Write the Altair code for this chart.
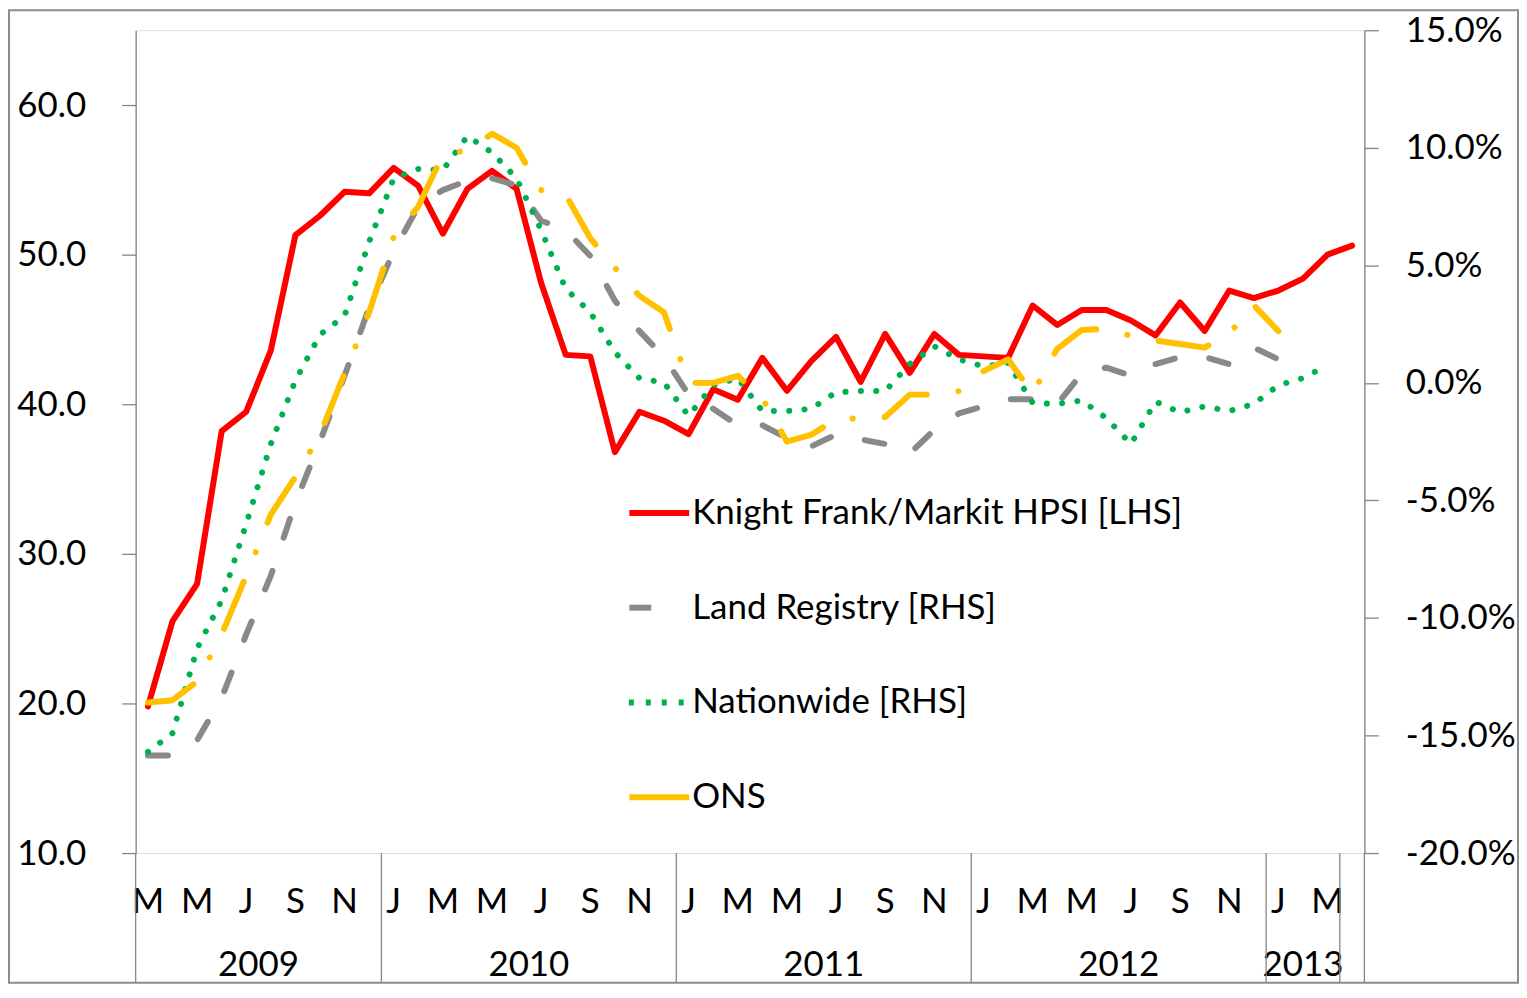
import altair as alt
import pandas as pd

# ---------------- data (Mar 2009 .. Apr 2013, monthly) ----------------
series_names = ["Knight Frank/Markit HPSI [LHS]", "Land Registry [RHS]",
                "Nationwide [RHS]", "ONS"]

knight_frank = [19.8, 25.5, 28.0, 38.2, 39.5, 43.6, 51.3, 52.6, 54.2, 54.1,
                55.8, 54.6, 51.4, 54.4, 55.6, 54.4, 48.1, 43.3, 43.2, 36.8,
                39.5, 38.9, 38.0, 41.0, 40.3, 43.1, 40.9, 42.9, 44.5, 41.5,
                44.7, 42.1, 44.7, 43.3, 43.2, 43.1, 46.6, 45.3, 46.3, 46.3,
                45.6, 44.6, 46.8, 44.9, 47.6, 47.1, 47.6, 48.4, 50.0, 50.6]

land_registry = [-15.85, -15.85, -15.2, -13.4, -10.7, -8.2, -5.1, -2.5, 0.3, 3.2,
                 5.6, 7.5, 8.2, 8.6, 8.7, 8.4, 6.9, 6.5, 5.4, 3.5,
                 2.2, 1.1, -0.5, -1.1, -1.8, -1.8, -2.35, -2.7, -2.2, -2.4,
                 -2.6, -3.0, -2.0, -1.3, -1.0, -0.7, -0.7, -0.9, 0.4, 0.65,
                 0.3, 0.8, 1.1, 1.1, 0.8, 1.5, 1.0, 1.0]

nationwide = [-15.7, -14.9, -11.3, -9.25, -6.0, -2.6, 0.1, 2.05, 2.85, 6.0,
              8.7, 9.1, 9.05, 10.5, 9.8, 8.7, 6.5, 4.0, 3.0, 1.3,
              0.2, 0.0, -1.4, -0.1, 0.2, -1.2, -1.2, -1.1, -0.4, -0.35,
              -0.35, 0.8, 1.55, 1.0, 0.7, 0.85, -0.85, -0.9, -0.75, -1.5,
              -2.6, -0.8, -1.25, -1.0, -1.2, -0.9, -0.1, 0.2, 0.75]

ons = [-13.6, -13.5, -12.7, -10.7, -8.2, -5.6, -4.0, -2.2, 0.4, 3.0,
       6.2, 7.5, 9.7, 9.9, 10.6, 10.0, 8.2, 8.0, 6.15, 4.9,
       3.7, 3.0, 0.0, 0.0, 0.3, -0.65, -2.5, -2.2, -1.55, -1.5,
       -1.45, -0.5, -0.5, -0.35, 0.5, 1.0, -0.45, 1.45, 2.25, 2.3,
       2.0, 1.8, 1.65, 1.5, 2.1, 3.3, 2.2]

# month initials shown on every other month, starting March 2009
month_labels = ["M", "M", "J", "S", "N",
                "J", "M", "M", "J", "S", "N",
                "J", "M", "M", "J", "S", "N",
                "J", "M", "M", "J", "S", "N",
                "J", "M"]
year_labels = ["2009", "2010", "2011", "2012", "2013"]
year_start = [0, 10, 22, 34, 46]
year_end = [10, 22, 34, 46, 49]
group_edges = [0, 10, 22, 34, 46, 49, 50]

colors = ["#FF0000", "#898989", "#00B050", "#FFC000"]
dashes = [None, [20, 35], [0.1, 15.3], [51, 32, 0.1, 32]]

# legend glyphs (unit square -1..1): line, short dash, dots, line
legend_shapes = [
    "M-1,0H1",
    "M-1,0H-0.27",
    "M-1.0167,0H-0.85 M-0.45,0H-0.2833 M0.0833,0H0.25 M0.65,0H0.8167",
    "M-1,0H1",
]

# ---------------- build tables ----------------
rows = []
for name, vals in zip(series_names, [knight_frank, land_registry, nationwide, ons]):
    for i, v in enumerate(vals):
        rows.append({"series": name, "x": i + 0.5, "value": v})
df = pd.DataFrame(rows)

month_df = pd.DataFrame({"x": [2 * k + 0.5 for k in range(len(month_labels))],
                         "label": month_labels})
year_df = pd.DataFrame({"x": [(a + b) / 2 for a, b in zip(year_start, year_end)],
                        "label": year_labels})
edge_df = pd.DataFrame({"x": group_edges})

W, H = 1232, 825
TOP = 21
FONT = "Lato"
AXC = "#868686"
FS = 35
BOTTOM = 131

xscale = alt.Scale(domain=[0, 50], nice=False, zero=False)


def left_scale():
    return alt.Scale(domain=[10, 65], nice=False, zero=False)


def right_scale():
    return alt.Scale(domain=[-20, 15], nice=False, zero=False)


legend = alt.Legend(
    title=None, orient="none", legendX=492, legendY=451,
    symbolSize=3600, symbolStrokeWidth=6, symbolOpacity=1,
    labelFont=FONT, labelFontSize=FS, labelColor="black", labelLimit=0,
    labelOffset=0, rowPadding=44, padding=0,
)
color = alt.Color("series:N", scale=alt.Scale(domain=series_names, range=colors),
                  legend=legend)
shape = alt.Shape("series:N", scale=alt.Scale(domain=series_names, range=legend_shapes),
                  legend=legend)

x_main = alt.X("x:Q", scale=xscale,
               axis=alt.Axis(values=list(range(51)), labels=False, title=None,
                             tickSize=79, grid=False, domainColor=AXC, tickColor=AXC,
                             domainWidth=1.3, tickWidth=1.3))
x_plain = alt.X("x:Q", scale=xscale, axis=None)

y_left = alt.Y("value:Q", scale=left_scale(),
               axis=alt.Axis(orient="left", values=[10, 20, 30, 40, 50, 60], format=".1f",
                             title=None, tickSize=14, labelPadding=36, grid=False,
                             domainColor=AXC, tickColor=AXC, domainWidth=1.3, tickWidth=1.3,
                             labelFont=FONT, labelFontSize=FS, labelColor="black"))
y_right = alt.Y("value:Q", scale=right_scale(),
                axis=alt.Axis(orient="right", values=[-20, -15, -10, -5, 0, 5, 10, 15],
                              labelExpr="(datum.value < 0 ? '-' : '') + format(abs(datum.value), '.1f') + '%'",
                              title=None, tickSize=14, labelPadding=27, grid=False,
                              domainColor=AXC, tickColor=AXC, domainWidth=1.3, tickWidth=1.3,
                              labelFont=FONT, labelFontSize=FS, labelColor="black"))


def y_right_plain():
    return alt.Y("value:Q", scale=right_scale(), axis=None)


def series_line(idx, x_enc, y_enc):
    kw = dict(strokeWidth=6, strokeCap="round", strokeJoin="round")
    if dashes[idx] is not None:
        kw["strokeDash"] = dashes[idx]
    return alt.Chart(df).transform_filter(
        alt.datum.series == series_names[idx]
    ).mark_line(**kw).encode(x=x_enc, y=y_enc, color=color)


red = series_line(0, x_main, y_left)
lr = series_line(1, x_plain, y_right)
nw = series_line(2, x_plain, y_right_plain())
on = series_line(3, x_plain, y_right_plain())

# legend carrier: no rows drawn, only supplies the legend symbols
legend_layer = alt.Chart(df).transform_filter("false").mark_point(
    filled=False, strokeWidth=6, opacity=1
).encode(x=x_plain, color=color, shape=shape)

month_text = alt.Chart(month_df).mark_text(
    font=FONT, fontSize=FS, color="black", baseline="middle", align="center"
).encode(x=x_plain, y=alt.value(H + 49), text="label:N")

year_text = alt.Chart(year_df).mark_text(
    font=FONT, fontSize=FS, color="black", baseline="middle", align="center"
).encode(x=x_plain, y=alt.value(H + 112), text="label:N")

edges = alt.Chart(edge_df).mark_rule(color=AXC, strokeWidth=1.3).encode(
    x=x_plain, y=alt.value(H), y2=alt.value(H + BOTTOM - 1)
)

frame = alt.Chart(pd.DataFrame({"k": [0]})).mark_rect(
    fillOpacity=0, stroke="#8c8c8c", strokeWidth=2
).encode(x=alt.value(-127), x2=alt.value(W + 154), y=alt.value(-TOP + 1),
         y2=alt.value(H + BOTTOM - 1))

chart = alt.layer(red, lr, nw, on, legend_layer, month_text, year_text, edges, frame).resolve_scale(
    y="independent"
).properties(
    width=W, height=H,
    autosize=alt.AutoSizeParams(type="none"),
    padding={"left": 128, "top": TOP, "right": 155, "bottom": BOTTOM},
).configure_view(stroke=None).configure(font=FONT)

chart.save("out.html", embed_options={"renderer": "svg", "actions": False})
